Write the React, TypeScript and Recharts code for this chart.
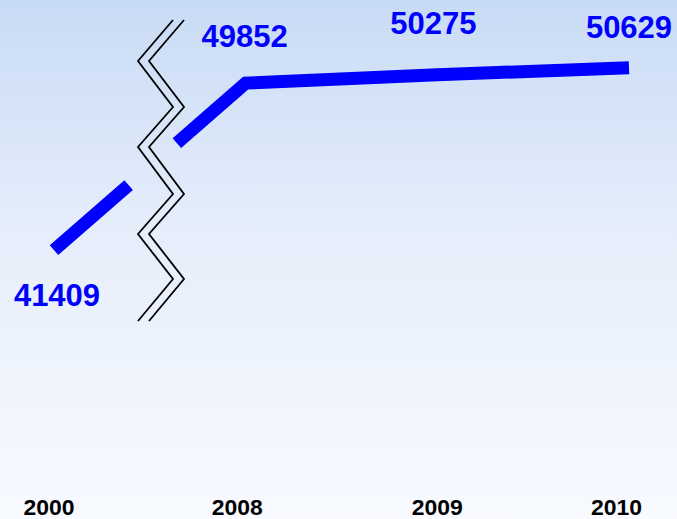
import React from 'react';
import { Customized, LabelList, Line, LineChart, XAxis, YAxis } from 'recharts';

const YEARS = ['2000', '2008', '2009', '2010'];
const VISITORS = [41409, 49852, 50275, 50629];
const Y_DOMAIN = [30000, 54000];

const BLUE = '#0000ff';
const FONT = '"Liberation Sans", Arial, sans-serif';

// small hand nudges so labels sit where the original put them
const TICK_NUDGE = [-5, -8.5, 0, -12.5];
const LABEL_NUDGE = [
  { dx: 3, dy: 56 },
  { dx: -1, dy: -36 },
  { dx: -4, dy: -41 },
  { dx: 0, dy: -30 },
];

// the two zigzag strokes marking the broken value axis
const BREAK_LEFT = [
  [173, 20], [138, 61], [173, 107], [138, 147], [173, 194], [138, 234], [173, 279], [138, 321],
];
const BREAK_GAP = 11;

const data = YEARS.map((year, i) => ({ year, value: VISITORS[i] }));

function YearTick({ x, y, payload, index }: any) {
  return (
    <text
      x={x + (TICK_NUDGE[index] ?? 0)}
      y={y + 31}
      textAnchor="middle"
      fontFamily={FONT}
      fontWeight="bold"
      fontSize={22}
      textLength={51}
      lengthAdjust="spacingAndGlyphs"
      fill="#000000"
    >
      {payload.value}
    </text>
  );
}

function renderValueLabel(props: any) {
  const { x, y, value, index } = props;
  const nudge = LABEL_NUDGE[index] ?? { dx: 0, dy: -40 };
  return (
    <text
      x={x + nudge.dx}
      y={y + nudge.dy}
      textAnchor="middle"
      fontFamily={FONT}
      fontWeight="bold"
      fontSize={31}
      fill={BLUE}
    >
      {value}
    </text>
  );
}

function AxisBreak() {
  const left = BREAK_LEFT.map(([px, py]) => `${px},${py}`).join(' ');
  const right = BREAK_LEFT.map(([px, py]) => `${px + BREAK_GAP},${py}`).join(' ');
  return (
    <g>
      <polyline points={left} fill="none" stroke="#000000" strokeWidth={1.8} />
      <polyline points={right} fill="none" stroke="#000000" strokeWidth={1.8} />
    </g>
  );
}

export default function App() {
  return (
    <div
      style={{
        position: 'absolute',
        left: 0,
        top: 0,
        width: 677,
        height: 519,
        background: 'linear-gradient(to bottom, #c8dbf5 0%, #e6eefb 45%, #f8faff 100%)',
      }}
    >
      <LineChart width={677} height={519} data={data} margin={{ top: 1, right: 0, bottom: 0, left: 0 }}>
        <XAxis
          dataKey="year"
          scale="point"
          padding={{ left: 54, right: 48 }}
          axisLine={false}
          tickLine={false}
          height={43}
          interval={0}
          tick={<YearTick />}
        />
        <YAxis hide type="number" domain={Y_DOMAIN} allowDataOverflow />
        <Line
          dataKey="value"
          stroke={BLUE}
          strokeWidth={13}
          strokeDasharray="99 64 2000"
          strokeLinecap="butt"
          strokeLinejoin="miter"
          dot={false}
          activeDot={false}
          isAnimationActive={false}
        >
          <LabelList dataKey="value" content={renderValueLabel} />
        </Line>
        <Customized component={<AxisBreak />} />
      </LineChart>
    </div>
  );
}
